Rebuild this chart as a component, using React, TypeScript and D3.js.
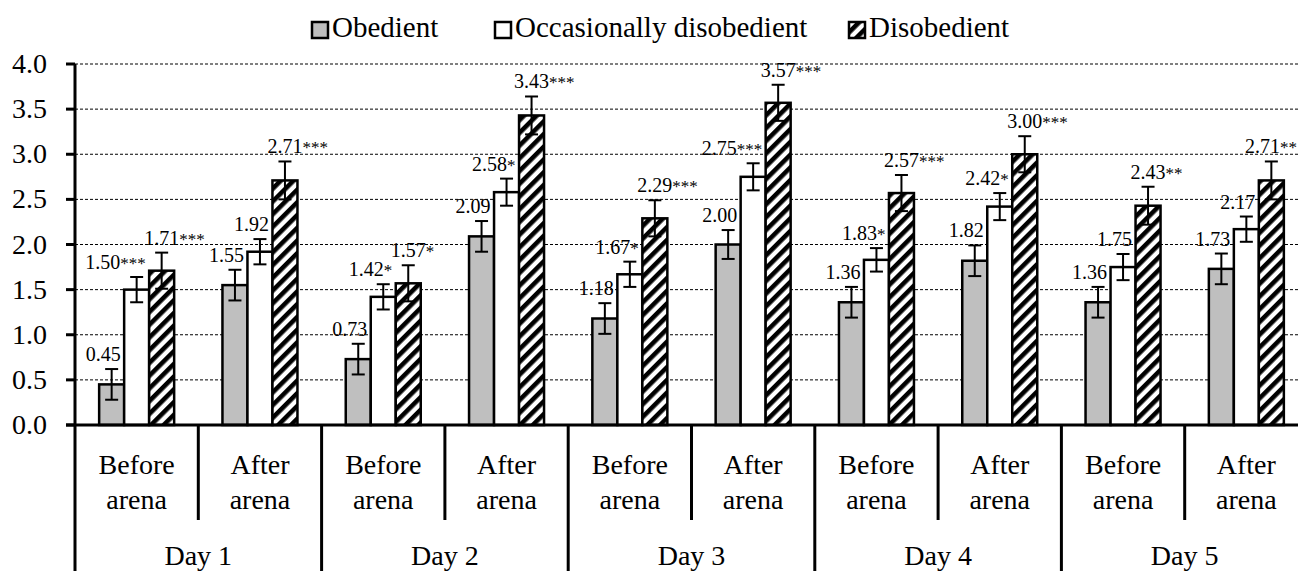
import React, { useEffect, useRef } from "react";
import * as d3 from "d3";

// chart values
const days = ["Day 1", "Day 2", "Day 3", "Day 4", "Day 5"];
const phases = ["Before", "After"];
const seriesNames = ["Obedient", "Occasionally disobedient", "Disobedient"];

const obedient = [0.45, 1.55, 0.73, 2.09, 1.18, 2.0, 1.36, 1.82, 1.36, 1.73];
const occasional = [1.5, 1.92, 1.42, 2.58, 1.67, 2.75, 1.83, 2.42, 1.75, 2.17];
const disobedient = [1.71, 2.71, 1.57, 3.43, 2.29, 3.57, 2.57, 3.0, 2.43, 2.71];

const obedientErr = [0.17, 0.17, 0.17, 0.17, 0.17, 0.16, 0.17, 0.17, 0.17, 0.17];
const occasionalErr = [0.14, 0.14, 0.14, 0.15, 0.14, 0.15, 0.13, 0.15, 0.145, 0.14];
const disobedientErr = [0.2, 0.21, 0.2, 0.21, 0.2, 0.2, 0.2, 0.2, 0.21, 0.21];

const obedientStars = ["", "", "", "", "", "", "", "", "", ""];
const occasionalStars = ["***", "", "*", "*", "*", "***", "*", "*", "", ""];
const disobedientStars = ["***", "***", "*", "***", "***", "***", "***", "***", "**", "**"];

const yTicks = [0, 0.5, 1, 1.5, 2, 2.5, 3, 3.5, 4];

const W = 1298;
const H = 571;
const FONT = "Liberation Serif, Times New Roman, DejaVu Serif, serif";

const App = () => {
    const ref = useRef<SVGSVGElement>(null);

    useEffect(() => {
        const svg = d3.select(ref.current);
        svg.selectAll("*").remove();

        const left = 75;
        const right = left + 123.3 * 10; // runs past the picture's right edge
        const top = 64;
        const bottom = 425;

        const cats = days.flatMap(d => phases.map(p => d + "|" + p));
        const x = d3.scaleBand().domain(cats).range([left, right]).padding(0);
        const y = d3.scaleLinear().domain([0, 4]).range([bottom, top]);
        const inner = d3.scaleBand().domain(["0", "1", "2"]).range([-37.5, 37.5]).padding(0);

        const defs = svg.append("defs");
        const pat = defs
            .append("pattern")
            .attr("id", "hatch")
            .attr("patternUnits", "userSpaceOnUse")
            .attr("width", 9)
            .attr("height", 9)
            .attr("patternTransform", "rotate(45)");
        pat.append("rect").attr("width", 9).attr("height", 9).attr("fill", "white");
        pat.append("rect").attr("width", 4.6).attr("height", 9).attr("fill", "black");

        const fills = ["#bfbfbf", "#ffffff", "url(#hatch)"];

        // gridlines
        svg.append("g")
            .selectAll("line")
            .data(yTicks.filter(t => t > 0))
            .enter()
            .append("line")
            .attr("x1", left)
            .attr("x2", W)
            .attr("y1", d => y(d))
            .attr("y2", d => y(d))
            .attr("stroke", "#000")
            .attr("stroke-width", 1)
            .attr("stroke-dasharray", "3,2");

        // y ticks + labels
        const yg = svg.append("g");
        yg.selectAll("line")
            .data(yTicks)
            .enter()
            .append("line")
            .attr("x1", left - 9)
            .attr("x2", left)
            .attr("y1", d => y(d))
            .attr("y2", d => y(d))
            .attr("stroke", "#000")
            .attr("stroke-width", 3);
        yg.selectAll("text")
            .data(yTicks)
            .enter()
            .append("text")
            .attr("x", 47)
            .attr("y", d => y(d) + 9)
            .attr("text-anchor", "end")
            .attr("font-family", FONT)
            .attr("font-size", 28)
            .text(d => d3.format(".1f")(d));

        // bars
        const series = [
            { vals: obedient, err: obedientErr, stars: obedientStars },
            { vals: occasional, err: occasionalErr, stars: occasionalStars },
            { vals: disobedient, err: disobedientErr, stars: disobedientStars }
        ];

        const bars = svg.append("g");
        series.forEach((s, si) => {
            s.vals.forEach((v, i) => {
                const cx = x(cats[i])! + x.bandwidth() / 2;
                const bx = cx + inner(String(si))!;
                const bw = inner.bandwidth();
                bars.append("rect")
                    .attr("x", bx)
                    .attr("y", y(v))
                    .attr("width", bw)
                    .attr("height", y(0) - y(v))
                    .attr("fill", fills[si])
                    .attr("stroke", "#000")
                    .attr("stroke-width", 2.5);
            });
        });

        // error bars + labels
        const eg = svg.append("g");
        series.forEach((s, si) => {
            s.vals.forEach((v, i) => {
                const cx = x(cats[i])! + x.bandwidth() / 2;
                const mx = cx + inner(String(si))! + inner.bandwidth() / 2;
                const hi = y(v + s.err[i]);
                const lo = y(v - s.err[i]);
                eg.append("line").attr("x1", mx).attr("x2", mx).attr("y1", hi).attr("y2", lo)
                    .attr("stroke", "#000").attr("stroke-width", 2);
                [hi, lo].forEach(yy => {
                    eg.append("line").attr("x1", mx - 6.5).attr("x2", mx + 6.5).attr("y1", yy).attr("y2", yy)
                        .attr("stroke", "#000").attr("stroke-width", 2);
                });

                const label = d3.format(".2f")(v);
                const ly = hi - 8;
                const t = eg.append("text")
                    .attr("y", ly)
                    .attr("font-family", FONT)
                    .attr("font-size", 20);
                const num = t.append("tspan").text(label);
                if (s.stars[i]) t.append("tspan").attr("font-size", 17).text(s.stars[i]);
                const nw = (num.node() as SVGTextContentElement).getComputedTextLength();
                const tw = (t.node() as SVGTextElement).getComputedTextLength();
                // obedient / occasional: label ends a little right of the bar centre
                // disobedient: number centred on the bar, stars trailing
                let sx = si < 2 ? mx + 9 - tw : mx - nw / 2;
                if (sx + tw > W - 1) sx = W - 1 - tw;
                t.attr("x", sx);
            });
        });

        // axes lines
        const ax = svg.append("g");
        ax.append("line").attr("x1", left).attr("x2", left).attr("y1", top).attr("y2", H)
            .attr("stroke", "#000").attr("stroke-width", 3);
        ax.append("line").attr("x1", left - 9).attr("x2", W).attr("y1", bottom).attr("y2", bottom)
            .attr("stroke", "#000").attr("stroke-width", 3);

        // category dividers
        cats.forEach((c, i) => {
            const xx = x(c)! + x.bandwidth();
            const isDay = i % 2 === 1;
            ax.append("line")
                .attr("x1", xx).attr("x2", xx)
                .attr("y1", bottom).attr("y2", isDay ? H : 520)
                .attr("stroke", "#000").attr("stroke-width", 3);
        });

        // category labels
        cats.forEach((c, i) => {
            const cx = x(c)! + x.bandwidth() / 2;
            const p = phases[i % 2];
            const t = ax.append("text")
                .attr("text-anchor", "middle")
                .attr("font-family", FONT)
                .attr("font-size", 28);
            t.append("tspan").attr("x", cx).attr("y", 474).text(p);
            t.append("tspan").attr("x", cx).attr("y", 509).text("arena");
        });
        days.forEach((d, i) => {
            const cx = x(cats[i * 2])! + x.bandwidth();
            ax.append("text")
                .attr("x", cx)
                .attr("y", 565)
                .attr("text-anchor", "middle")
                .attr("font-family", FONT)
                .attr("font-size", 28)
                .text(d);
        });

        // legend
        const lg = svg.append("g");
        const legendX = [312, 495, 849];
        seriesNames.forEach((n, si) => {
            const lx = legendX[si];
            lg.append("rect")
                .attr("x", lx)
                .attr("y", 22)
                .attr("width", 16)
                .attr("height", 16)
                .attr("fill", fills[si])
                .attr("stroke", "#000")
                .attr("stroke-width", 2.5);
            lg.append("text")
                .attr("x", lx + 20)
                .attr("y", 37)
                .attr("font-family", FONT)
                .attr("font-size", 29)
                .text(n);
        });
    }, []);

    return (
        <svg
            ref={ref}
            width={W}
            height={H}
            fontFamily={FONT}
            style={{ position: "absolute", left: 0, top: 0, background: "#fff", overflow: "hidden" }}
        />
    );
};

export default App;
